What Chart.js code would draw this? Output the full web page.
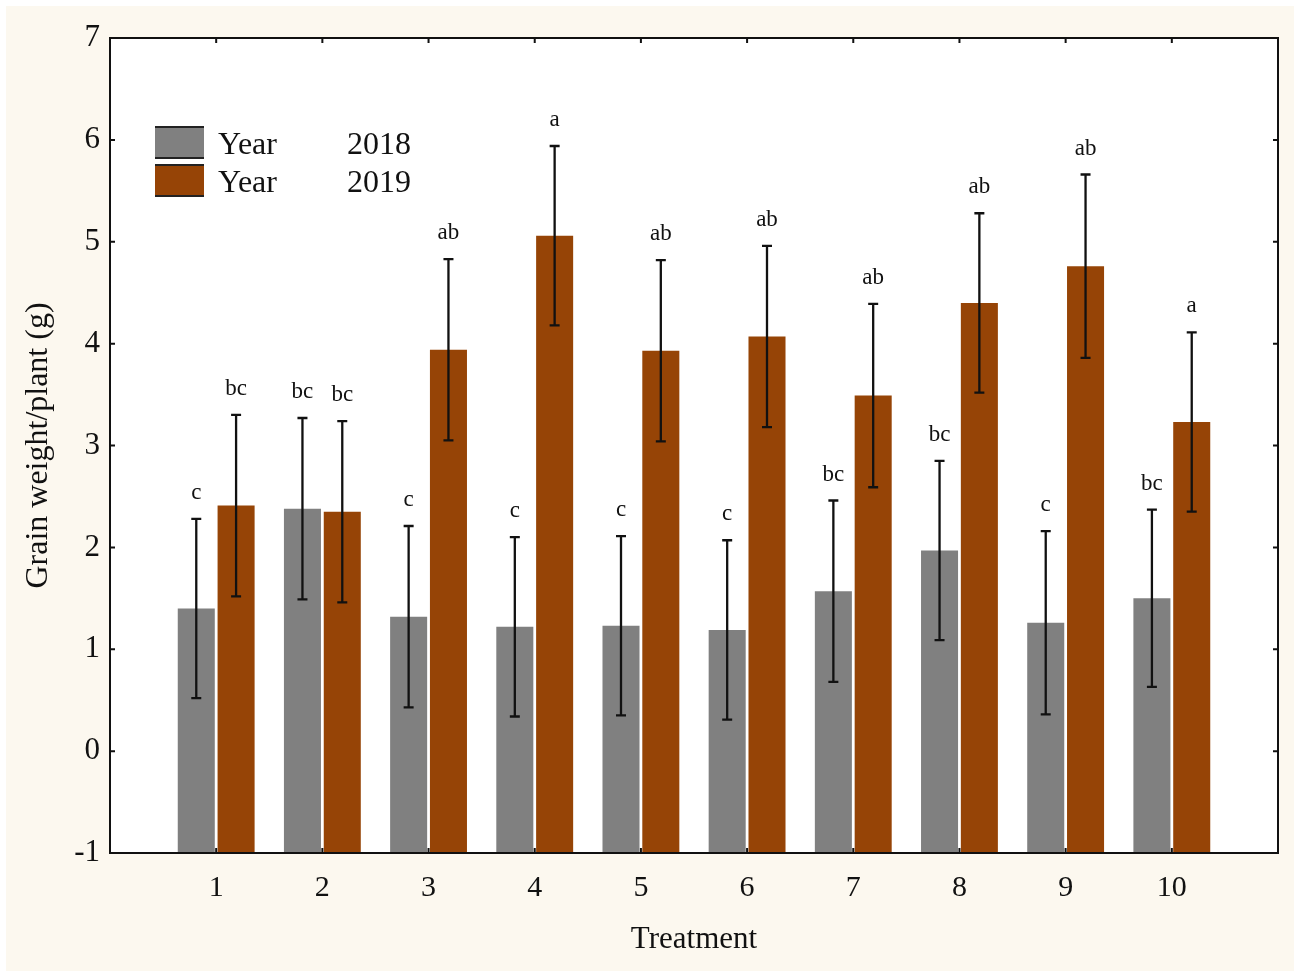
<!DOCTYPE html>
<html>
<head>
<meta charset="utf-8">
<script src="https://cdn.jsdelivr.net/npm/chart.js@4.4.1/dist/chart.umd.min.js"></script>
<style>
  html, body { margin: 0; padding: 0; background: #ffffff; }
  #wrap { width: 1300px; height: 977px; }
</style>
</head>
<body>
<div id="wrap"><canvas id="chart-grain"></canvas></div>
<script>
const treatments = ['1', '2', '3', '4', '5', '6', '7', '8', '9', '10'];
const seriesNames = ['2018', '2019'];
const grain2018 = [1.40, 2.38, 1.32, 1.22, 1.23, 1.19, 1.57, 1.97, 1.26, 1.50];
const grain2019 = [2.41, 2.35, 3.94, 5.06, 3.93, 4.07, 3.49, 4.40, 4.76, 3.23];
const err2018 = [0.88, 0.89, 0.89, 0.88, 0.88, 0.88, 0.89, 0.88, 0.90, 0.87];
const err2019 = [0.89, 0.89, 0.89, 0.88, 0.89, 0.89, 0.90, 0.88, 0.90, 0.88];
const letters2018 = ['c', 'bc', 'c', 'c', 'c', 'c', 'bc', 'bc', 'c', 'bc'];
const letters2019 = ['bc', 'bc', 'ab', 'a', 'ab', 'ab', 'ab', 'ab', 'ab', 'a'];
const yTicks = [-1, 0, 1, 2, 3, 4, 5, 6, 7];

const serif = "'Liberation Serif', 'Times New Roman', serif";
const colors = ['#808080', '#964406'];

// empty slots at both ends so treatment n sits at position n on a 0..11 axis
const pad = (arr) => [null, ...arr, null];
const labels = ['', ...treatments, ''];

const boxAndTicks = {
    id: 'boxAndTicks',
    beforeDraw(chart) {
        const { ctx, chartArea: a } = chart;
        ctx.save();
        ctx.fillStyle = '#fcf8ef';
        ctx.fillRect(6, 6, chart.width - 12, chart.height - 12);
        ctx.fillStyle = '#ffffff';
        ctx.fillRect(a.left, a.top, a.right - a.left, a.bottom - a.top);
        ctx.restore();
    },
    afterDraw(chart) {
        const { ctx, chartArea: a, scales } = chart;
        ctx.save();
        ctx.strokeStyle = '#111';
        ctx.lineWidth = 2;
        ctx.strokeRect(a.left, a.top, a.right - a.left, a.bottom - a.top);
        ctx.beginPath();
        yTicks.forEach(v => {
            const y = scales.y.getPixelForValue(v);
            ctx.moveTo(a.left, y); ctx.lineTo(a.left + 5, y);
            ctx.moveTo(a.right, y); ctx.lineTo(a.right - 5, y);
        });
        treatments.forEach((t, i) => {
            const x = scales.x.getPixelForValue(i + 1);
            ctx.moveTo(x, a.bottom); ctx.lineTo(x, a.bottom - 5);
            ctx.moveTo(x, a.top); ctx.lineTo(x, a.top + 5);
        });
        ctx.stroke();

        // legend inside the plot
        const lx = 155, ly = 127;
        chart.data.datasets.forEach((ds, i) => {
            const y0 = ly + i * 38;
            ctx.fillStyle = ds.backgroundColor;
            ctx.fillRect(lx, y0, 49, 31);
            ctx.strokeStyle = '#222';
            ctx.lineWidth = 2;
            ctx.beginPath();
            ctx.moveTo(lx, y0); ctx.lineTo(lx + 49, y0);
            ctx.moveTo(lx, y0 + 31); ctx.lineTo(lx + 49, y0 + 31);
            ctx.stroke();
            ctx.fillStyle = '#111';
            ctx.font = '32px ' + serif;
            ctx.textBaseline = 'alphabetic';
            ctx.textAlign = 'left';
            ctx.fillText('Year', 218, y0 + 27);
            ctx.fillText(seriesNames[i], 347, y0 + 27);
        });
        ctx.restore();
    },
    afterDatasetsDraw(chart) {
        const { ctx, scales } = chart;
        const errs = [err2018, err2019];
        const letters = [letters2018, letters2019];
        ctx.save();
        ctx.strokeStyle = '#111';
        ctx.fillStyle = '#111';
        ctx.lineWidth = 2.3;
        ctx.font = '23px ' + serif;
        ctx.textAlign = 'center';
        ctx.textBaseline = 'alphabetic';
        chart.data.datasets.forEach((ds, di) => {
            const meta = chart.getDatasetMeta(di);
            meta.data.forEach((bar, idx) => {
                const v = ds.data[idx];
                if (v === null) return;
                const e = errs[di][idx - 1];
                const x = bar.x;
                const yTop = scales.y.getPixelForValue(v + e);
                const yBot = scales.y.getPixelForValue(v - e);
                ctx.beginPath();
                ctx.moveTo(x, yTop); ctx.lineTo(x, yBot);
                ctx.moveTo(x - 5, yTop); ctx.lineTo(x + 5, yTop);
                ctx.moveTo(x - 5, yBot); ctx.lineTo(x + 5, yBot);
                ctx.stroke();
                ctx.fillText(letters[di][idx - 1], x, yTop - 20);
            });
        });
        ctx.restore();
    }
};

new Chart(document.getElementById('chart-grain'), {
    type: 'bar',
    data: {
        labels: labels,
        datasets: [{
            label: 'Year ' + seriesNames[0],
            data: pad(grain2018),
            backgroundColor: colors[0],
            base: -1,
            categoryPercentage: 0.75,
            barPercentage: 0.93,
        }, {
            label: 'Year ' + seriesNames[1],
            data: pad(grain2019),
            backgroundColor: colors[1],
            base: -1,
            categoryPercentage: 0.75,
            barPercentage: 0.93,
        }],
    },
    options: {
        responsive: true,
        maintainAspectRatio: false,
        animation: false,
        layout: { padding: { top: 38, right: 22, left: 0, bottom: 0 } },
        plugins: { legend: { display: false }, tooltip: { enabled: false } },
        scales: {
            x: {
                offset: false,
                grid: { display: false, drawTicks: false },
                border: { display: false },
                ticks: {
                    autoSkip: false, maxRotation: 0, padding: 17,
                    color: '#111', font: { family: serif, size: 30 },
                },
                title: {
                    display: true, text: 'Treatment', color: '#111',
                    font: { family: serif, size: 31 }, padding: { top: 19, bottom: 19 },
                },
                afterFit(s) { s.height = 124; },
            },
            y: {
                min: -1,
                max: 7,
                grid: { display: false, drawTicks: false },
                border: { display: false },
                ticks: {
                    stepSize: 1, padding: 10,
                    color: '#111', font: { family: serif, size: 31 },
                },
                title: {
                    display: true, text: 'Grain weight/plant (g)', color: '#111',
                    font: { family: serif, size: 32 }, padding: { top: 19, bottom: 19 },
                },
                afterFit(s) { s.width = 110; },
            },
        },
    },
    plugins: [boxAndTicks],
});
</script>
</body>
</html>
